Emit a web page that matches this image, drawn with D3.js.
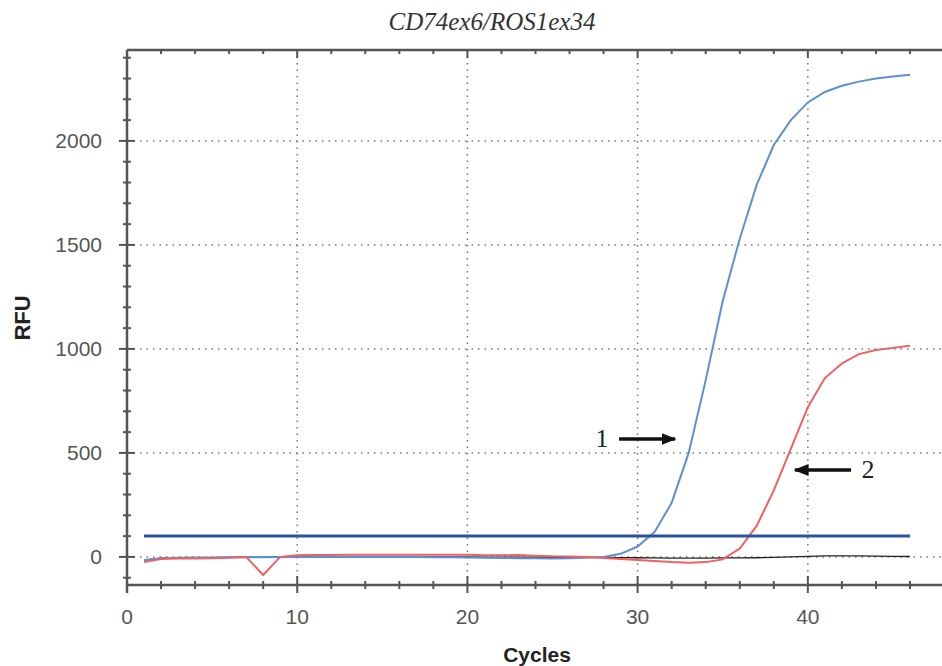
<!DOCTYPE html>
<html><head><meta charset="utf-8">
<script src="https://cdn.jsdelivr.net/npm/d3@7"></script>
<style>body{margin:0;background:#fff}svg{display:block}</style>
</head><body><svg id="c" width="942" height="666"></svg>
<script>
const cycles = d3.range(1, 47);
const blueValues = [-15,-6,-4,-3,-3,-2,-2,-1,0,0,0,0,0,0,0,0,0,-1,-2,-3,-4,-5,-6,-7,-7,-6,-4,0,15,50,120,260,500,850,1230,1530,1790,1980,2100,2185,2235,2265,2285,2300,2310,2318];
const redValues = [-25,-10,-8,-8,-6,-4,0,-87,0,8,9,9,10,10,11,11,10,10,10,10,8,8,9,6,3,2,0,-5,-10,-15,-20,-25,-28,-25,-12,40,150,320,520,720,860,930,975,995,1005,1015];
const blackValues = [-15,-6,-4,-4,-3,-2,-1,-1,0,0,0,0,0,0,0,0,0,0,0,0,-1,-1,-1,-1,-2,-2,-2,-2,-3,-4,-5,-6,-6,-6,-5,-5,-4,-2,0,3,5,5,5,4,3,2];
const thresholdValue = 100;
const xMajorTicks = [0,10,20,30,40];
const xMinorTicks = d3.range(0, 47, 2);
const yMajorTicks = [0,500,1000,1500,2000];
const yMinorTicks = d3.range(-100, 2401, 100);
const titleText = "CD74ex6/ROS1ex34";
const xLabel = "Cycles", yLabel = "RFU";
const annotations = [{label:"1", cycle:32.2, value:567, dir:1},{label:"2", cycle:39.25, value:418, dir:-1}];

const svg = d3.select("#c");
const x = d3.scaleLinear().domain([0,48]).range([127,944]);
const y = d3.scaleLinear().domain([-135,2437]).range([585,50]);
const axisCol = "#555";
const sans = "Liberation Sans, Arial, sans-serif";
const serif = "Liberation Serif, Times New Roman, serif";

// grid
const g = svg.append("g");
g.selectAll(".vg").data(xMajorTicks.filter(d=>d>0)).join("line")
  .attr("x1",d=>x(d)).attr("x2",d=>x(d)).attr("y1",y(2437)).attr("y2",y(-135))
  .attr("stroke","#777").attr("stroke-width",1.5).attr("stroke-dasharray","1.5,5");
g.selectAll(".hg").data(yMajorTicks).join("line")
  .attr("x1",x(0)).attr("x2",942).attr("y1",d=>y(d)).attr("y2",d=>y(d))
  .attr("stroke","#777").attr("stroke-width",1.5).attr("stroke-dasharray","1.5,5");

// axes lines
svg.append("line").attr("x1",x(0)).attr("x2",942).attr("y1",y(-135)).attr("y2",y(-135)).attr("stroke",axisCol).attr("stroke-width",2.5);
svg.append("line").attr("x1",x(0)).attr("x2",942).attr("y1",y(2437)).attr("y2",y(2437)).attr("stroke",axisCol).attr("stroke-width",2.5);
svg.append("line").attr("x1",x(0)).attr("x2",x(0)).attr("y1",y(2437)).attr("y2",y(-135)+8).attr("stroke",axisCol).attr("stroke-width",2.5);

// x ticks bottom (crossing)
svg.selectAll(".xt").data(xMinorTicks).join("line")
  .attr("x1",d=>x(d)).attr("x2",d=>x(d))
  .attr("y1",d=>y(-135)-(d%10===0?9:4)).attr("y2",d=>y(-135)+(d%10===0?8:4))
  .attr("stroke",axisCol).attr("stroke-width",2);
// x ticks top
svg.selectAll(".xtt").data(xMinorTicks).join("line")
  .attr("x1",d=>x(d)).attr("x2",d=>x(d))
  .attr("y1",y(2437)).attr("y2",d=>y(2437)+(d%10===0?8:4))
  .attr("stroke",axisCol).attr("stroke-width",2);
// y ticks
svg.selectAll(".yt").data(yMinorTicks).join("line")
  .attr("x1",d=>x(0)-(d%500===0?8:4)).attr("x2",d=>x(0)+(d%500===0?8:4))
  .attr("y1",d=>y(d)).attr("y2",d=>y(d))
  .attr("stroke",axisCol).attr("stroke-width",2);

// tick labels
svg.selectAll(".xl").data(xMajorTicks).join("text")
  .attr("x",d=>x(d)).attr("y",624).attr("text-anchor","middle")
  .attr("font-family",sans).attr("font-size",21).attr("fill","#555").text(d=>d);
svg.selectAll(".yl").data(yMajorTicks).join("text")
  .attr("x",102).attr("y",d=>y(d)+7).attr("text-anchor","end")
  .attr("font-family",sans).attr("font-size",21).attr("fill","#555").text(d=>d);

// labels
svg.append("text").attr("x",537).attr("y",662).attr("text-anchor","middle")
  .attr("font-family",sans).attr("font-weight","bold").attr("font-size",21).attr("fill","#222").text(xLabel);
svg.append("text").attr("transform","translate(30,318) rotate(-90)").attr("text-anchor","middle")
  .attr("font-family",sans).attr("font-weight","bold").attr("font-size",22).attr("fill","#222").text(yLabel);
svg.append("text").attr("x",492).attr("y",30).attr("text-anchor","middle")
  .attr("font-family",serif).attr("font-style","italic").attr("font-size",25).attr("fill","#333").text(titleText);

// curves
const line = d3.line().x((d,i)=>x(cycles[i])).y(d=>y(d));
svg.append("path").datum(blackValues).attr("d",line).attr("fill","none").attr("stroke","#222").attr("stroke-width",1.3);
svg.append("path").datum(blueValues).attr("d",line).attr("fill","none").attr("stroke","#5b8fd6").attr("stroke-width",2);
svg.append("path").datum(redValues).attr("d",line).attr("fill","none").attr("stroke","#f06060").attr("stroke-width",2);
svg.append("line").attr("x1",x(1)).attr("x2",x(46)).attr("y1",y(thresholdValue)).attr("y2",y(thresholdValue))
  .attr("stroke","#2d52a3").attr("stroke-width",3);

// annotations
svg.append("defs").append("marker").attr("id","ah").attr("viewBox","0 0 10 10").attr("refX",9).attr("refY",5)
  .attr("markerUnits","userSpaceOnUse").attr("markerWidth",15).attr("markerHeight",12).attr("orient","auto-start-reverse")
  .attr("preserveAspectRatio","none")
  .append("path").attr("d","M0,0 L10,5 L0,10 z").attr("fill","#111");
annotations.forEach(a=>{
  const ty = y(a.value), tip = x(a.cycle);
  const x1 = tip - a.dir*56;
  svg.append("line").attr("x1",x1).attr("x2",tip).attr("y1",ty).attr("y2",ty).attr("stroke","#111").attr("stroke-width",3.5).attr("marker-end","url(#ah)");
  svg.append("text").attr("x",x1 - a.dir*17).attr("y",ty+8).attr("text-anchor","middle")
    .attr("font-family",serif).attr("font-size",26).attr("fill","#222").text(a.label);
});
</script></body></html>
